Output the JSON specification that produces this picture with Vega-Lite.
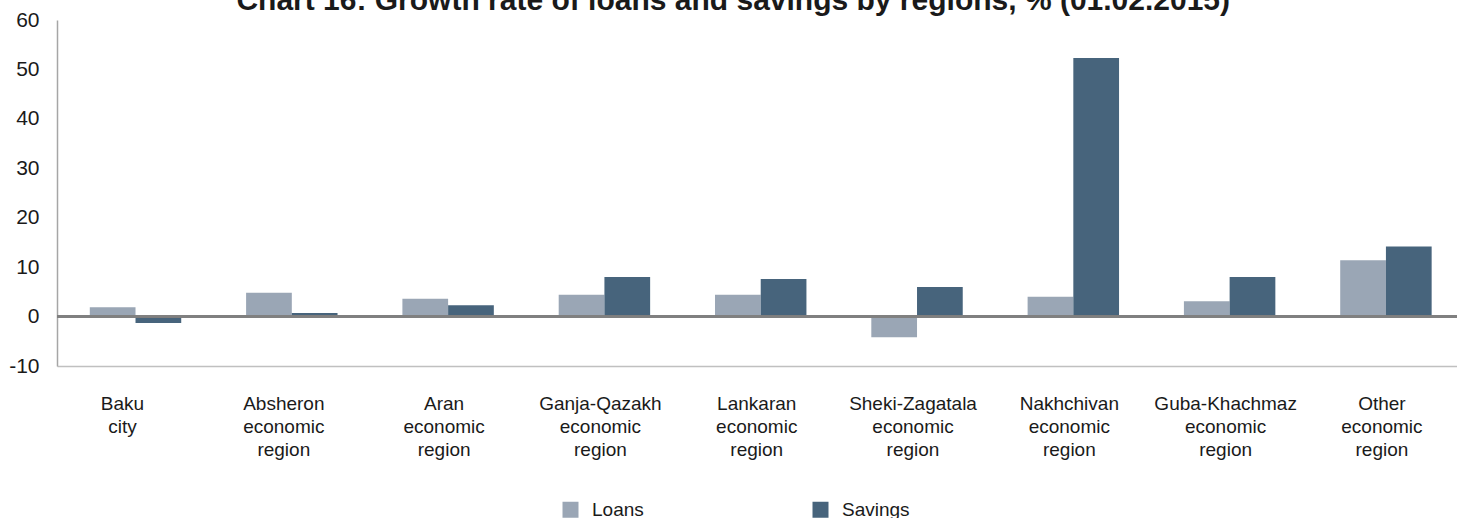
{
  "$schema": "https://vega.github.io/schema/vega-lite/v6.json",
  "width": 1400,
  "height": 346,
  "autosize": {"type": "none"},
  "padding": {"left": 57, "top": 20, "right": 0, "bottom": 152},
  "background": "white",
  "config": {
    "view": {"stroke": null},
    "font": "Liberation Sans"
  },
  "title": {
    "text": "Chart 16: Growth rate of loans and savings by regions, % (01.02.2015)",
    "font": "Liberation Sans",
    "fontSize": 30,
    "fontWeight": "bold",
    "color": "#1a1a1a",
    "anchor": "middle",
    "frame": "bounds",
    "offset": -7
  },
  "data": {
    "values": [
      {"region": "Baku city", "series": "Loans", "value": 1.9},
      {"region": "Baku city", "series": "Savings", "value": -1.3},
      {"region": "Absheron economic region", "series": "Loans", "value": 4.8},
      {"region": "Absheron economic region", "series": "Savings", "value": 0.7},
      {"region": "Aran economic region", "series": "Loans", "value": 3.6},
      {"region": "Aran economic region", "series": "Savings", "value": 2.3},
      {"region": "Ganja-Qazakh economic region", "series": "Loans", "value": 4.4},
      {"region": "Ganja-Qazakh economic region", "series": "Savings", "value": 8.0},
      {"region": "Lankaran economic region", "series": "Loans", "value": 4.4},
      {"region": "Lankaran economic region", "series": "Savings", "value": 7.6},
      {"region": "Sheki-Zagatala economic region", "series": "Loans", "value": -4.2},
      {"region": "Sheki-Zagatala economic region", "series": "Savings", "value": 6.0},
      {"region": "Nakhchivan economic region", "series": "Loans", "value": 4.0},
      {"region": "Nakhchivan economic region", "series": "Savings", "value": 52.3},
      {"region": "Guba-Khachmaz economic region", "series": "Loans", "value": 3.1},
      {"region": "Guba-Khachmaz economic region", "series": "Savings", "value": 8.0},
      {"region": "Other economic region", "series": "Loans", "value": 11.4},
      {"region": "Other economic region", "series": "Savings", "value": 14.2}
    ]
  },
  "layer": [
    {
      "mark": {"type": "bar"},
      "encoding": {
        "x": {
          "field": "region",
          "type": "nominal",
          "sort": null,
          "scale": {"paddingInner": 0.415, "paddingOuter": 0.186, "align": 0.564},
          "axis": {
            "title": null,
            "orient": "bottom",
            "labelAngle": 0,
            "ticks": false,
            "domainColor": "#c0c0c0",
            "domainWidth": 1.5,
            "labelFont": "Liberation Sans",
            "labelFontSize": 19,
            "labelColor": "#1a1a1a",
            "labelPadding": 28,
            "labelLineHeight": 23,
            "labelBaseline": "top",
            "labelLimit": 300,
            "labelExpr": "split(datum.value, ' ')",
            "labelOffset": {"expr": "datum.index < 0.01 ? -13 : (datum.index < 0.2 ? -8 : -4)"}
          }
        },
        "xOffset": {"field": "series", "type": "nominal", "scale": {"paddingInner": 0, "paddingOuter": 0}},
        "y": {
          "field": "value",
          "type": "quantitative",
          "scale": {"domain": [-10, 60], "nice": false, "zero": false},
          "axis": {
            "title": null,
            "values": [-10, 0, 10, 20, 30, 40, 50, 60],
            "grid": false,
            "ticks": false,
            "domainColor": "#a6a6a6",
            "domainWidth": 1.5,
            "labelFont": "Liberation Sans",
            "labelFontSize": 21,
            "labelColor": "#1a1a1a",
            "labelPadding": 18,
            "labelExpr": "toString(datum.value)"
          }
        },
        "color": {
          "field": "series",
          "type": "nominal",
          "scale": {"domain": ["Loans", "Savings"], "range": ["#9aa6b5", "#47647c"]},
          "legend": {
            "title": null,
            "orient": "none",
            "direction": "horizontal",
            "legendX": 504,
            "legendY": 480,
            "padding": 0,
            "symbolType": "square",
            "symbolSize": 256,
            "symbolStrokeWidth": 0,
            "symbolOpacity": 1,
            "labelFont": "Liberation Sans",
            "labelFontSize": 19,
            "labelColor": "#1a1a1a",
            "labelOffset": 12,
            "columnPadding": 167,
            "gridAlign": "each"
          }
        }
      }
    },
    {
      "mark": {"type": "rule", "color": "#808080", "strokeWidth": 1.5},
      "encoding": {"y": {"datum": 0}}
    }
  ]
}
